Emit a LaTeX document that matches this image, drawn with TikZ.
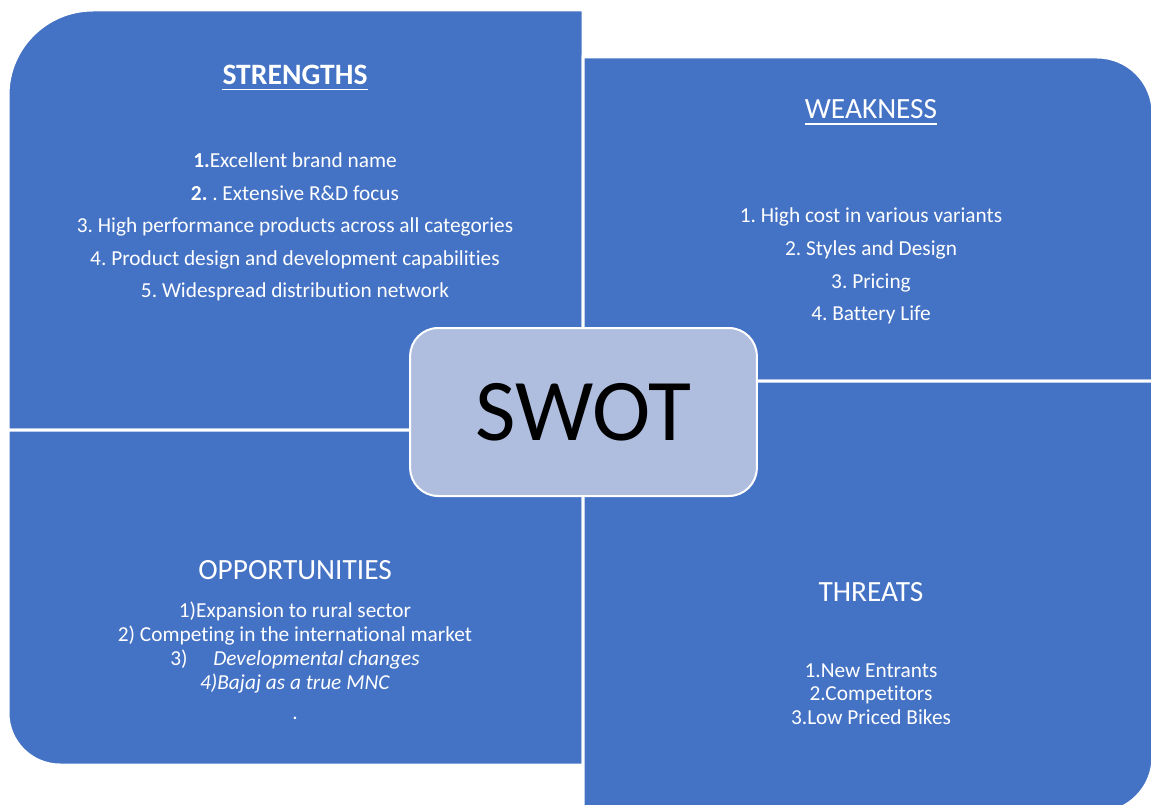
\documentclass[tikz,border=0pt]{standalone}
\usepackage{fontspec}
\setmainfont{Carlito}[Ligatures=NoCommon]
\usetikzlibrary{positioning}

\definecolor{swotblue}{HTML}{4472C4}
\definecolor{swotcore}{HTML}{AFBDDF}

\frenchspacing

\begin{document}
\begin{tikzpicture}[x=0.75pt, y=-0.75pt,
    block/.style={fill=swotblue, draw=white, line width=2.25pt},
    head/.style={text=white, inner sep=0pt, anchor=base, font=\fontsize{22}{26}\selectfont},
    items/.style={text=white, inner sep=0pt, align=center},
    headrule/.style={white, line width=1.1pt}]

    \useasboundingbox (0,0) rectangle (1151,805);
    \clip (0,0) rectangle (1151,805);

    % Four quadrants, each with one rounded outer corner
    \draw[block] (8,430) -- (8,95) arc[start angle=180, end angle=270, radius=85] -- (583,10) -- (583,430) -- cycle;
    \draw[block] (583,57) -- (1097,57) arc[start angle=270, end angle=360, radius=56] -- (1153,381) -- (583,381) -- cycle;
    \draw[block] (8,430) -- (583,430) -- (583,765) -- (60,765) arc[start angle=90, end angle=180, radius=52] -- cycle;
    \draw[block] (583,381) -- (1153,381) -- (1153,757) arc[start angle=0, end angle=90, radius=56] -- (583,813) -- cycle;

    % Strengths
    \node[head, font=\fontsize{22.2}{26}\selectfont\bfseries] (strhead) at (295,84.5) {STRENGTHS};
    \draw[headrule] ([yshift=-3.75pt]strhead.base west) -- ([yshift=-3.75pt]strhead.base east);
    \node[items, font=\fontsize{16}{24.4}\selectfont] (strlist) at (295,227) {\textbf{1.}Excellent brand name\\
        \textbf{2.} . Extensive R\&D focus\\
        3. High performance products across all categories\\
        4. Product design and development capabilities\\
        5. Widespread distribution network};

    % Weakness
    \node[head] (weakhead) at (871,119) {WEAKNESS};
    \draw[headrule] ([yshift=-3.75pt]weakhead.base west) -- ([yshift=-3.75pt]weakhead.base east);
    \node[items, font=\fontsize{16}{24.5}\selectfont] (weaklist) at (871,266) {1. High cost in various variants\\
        2. Styles and Design\\
        3. Pricing\\
        4. Battery Life};

    % Opportunities
    \node[head] (opphead) at (295,579) {OPPORTUNITIES};
    \node[items, font=\fontsize{16}{18}\selectfont] (opplist) at (295,661) {1)Expansion to rural sector\\
        2) Competing in the international market\\
        3)\hspace{1.2em}\textit{Developmental changes}\\
        \textit{4)Bajaj as a true MNC}\\[4.5pt]
        .};

    % Threats
    \node[head] (thrhead) at (871,601) {THREATS};
    \node[items, font=\fontsize{16}{17.6}\selectfont] (thrlist) at (871,694) {1.New Entrants\\
        2.Competitors\\
        3.Low Priced Bikes};

    % Centre box
    \node[fill=swotcore, draw=white, line width=1.5pt, rounded corners=21pt,
        minimum width=260pt, minimum height=126pt, inner sep=0pt,
        font=\fontsize{66}{72}\selectfont] (core) at (583.5,412) {SWOT};
\end{tikzpicture}
\end{document}
